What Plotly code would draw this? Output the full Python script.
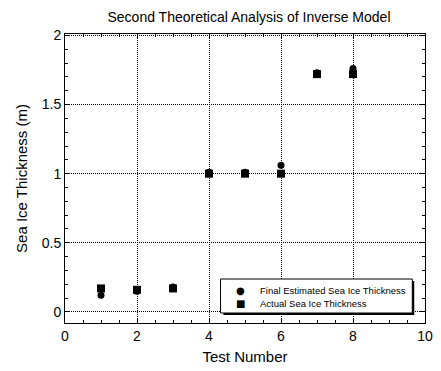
import plotly.graph_objects as go

tests = [1, 2, 3, 4, 5, 6, 7, 8]
estimated = [0.12, 0.15, 0.18, 1.01, 1.01, 1.06, 1.73, 1.76]
actual = [0.17, 0.16, 0.17, 1.00, 1.00, 1.00, 1.72, 1.72]
series_names = ["Final Estimated Sea Ice Thickness", "Actual Sea Ice Thickness"]

FONT = "Liberation Sans, Arial, sans-serif"

fig = go.Figure()
fig.add_trace(go.Scatter(x=tests, y=estimated, mode="markers", name=series_names[0],
                         marker=dict(symbol="circle", size=7, color="black")))
fig.add_trace(go.Scatter(x=tests, y=actual, mode="markers", name=series_names[1],
                         marker=dict(symbol="square", size=8, color="black")))

W, H = 441, 371
L, R, T, B = 65, 8, 34, 48
pw, ph = W - L - R, H - T - B

def px(x):
    return (x - L) / pw

def py(y):
    return (H - B - y) / ph

# legend box with shadow
fig.add_shape(type="rect", xref="paper", yref="paper",
              x0=px(227), x1=px(422), y0=py(315), y1=py(281),
              fillcolor="black", line=dict(width=0), layer="above")
fig.add_shape(type="rect", xref="paper", yref="paper",
              x0=px(224), x1=px(420), y0=py(313), y1=py(279),
              fillcolor="white", line=dict(color="black", width=1), layer="above")

for i, (sym, name) in enumerate(zip(["●", "■"], series_names)):
    yy = 290 + 13 * i
    fig.add_annotation(xref="paper", yref="paper", x=px(244), y=py(yy),
                       text=sym, showarrow=False, xanchor="center", yanchor="middle",
                       font=dict(family="DejaVu Sans", size=10, color="black"))
    fig.add_annotation(xref="paper", yref="paper", x=px(262), y=py(yy),
                       text=name, showarrow=False, xanchor="left", yanchor="middle",
                       font=dict(family=FONT, size=9.5, color="black"))

axis_common = dict(
    showline=True, linecolor="black", linewidth=1, mirror="ticks",
    ticks="inside", ticklen=5, tickcolor="black", tickwidth=1,
    showgrid=True, gridcolor="black", gridwidth=1, griddash="1px,1px",
    zeroline=False, tickfont=dict(family=FONT, size=14, color="black"),
    title_font=dict(family=FONT, size=15, color="black"),
)

fig.update_layout(
    width=W, height=H,
    margin=dict(l=L, r=R, t=T, b=B),
    paper_bgcolor="white", plot_bgcolor="white",
    title=dict(text="Second Theoretical Analysis of Inverse Model",
               x=(L + pw / 2) / W, xanchor="center", y=1 - 17 / H, yanchor="middle",
               font=dict(family=FONT, size=14, color="black")),
    xaxis=dict(range=[0, 10], dtick=2, tick0=0, title=dict(text="Test Number", standoff=8),
               minor=dict(dtick=0.5, ticks="inside", ticklen=3, tickcolor="black", showgrid=False),
               **axis_common),
    yaxis=dict(range=[-0.08, 2.01], dtick=0.5, tick0=0, title=dict(text="Sea Ice Thickness (m)", standoff=10),
               minor=dict(dtick=0.1, ticks="inside", ticklen=3, tickcolor="black", showgrid=False),
               **axis_common),
    showlegend=False,
)

fig.write_html("out.html")
